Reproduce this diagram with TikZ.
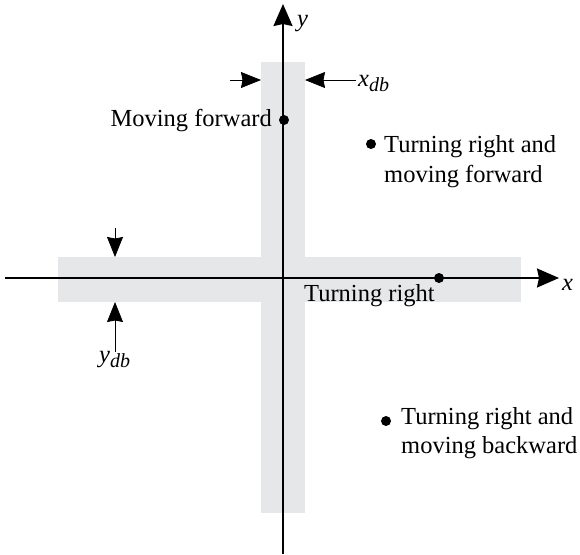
\documentclass[tikz,border=0pt]{standalone}
\usepackage{fontspec}
\setmainfont{Liberation Serif}
\usetikzlibrary{arrows.meta}
\definecolor{band}{HTML}{E6E7E8}
\newcommand{\dbsub}[2]{{\itshape #1\raisebox{-0.5ex}{\fontsize{20}{20}\selectfont #2}}}
\begin{document}
\begin{tikzpicture}[x=1pt,y=-1pt,
  lbl/.style={font=\fontsize{24.5}{30}\selectfont, inner sep=0pt},
  axis/.style={line width=1.8pt, -{Stealth[length=22pt,width=19pt,inset=2pt]}},
  dimarrow/.style={line width=0.8pt, -{Stealth[length=20pt,width=16pt,inset=1.5pt]}},
  dot/.style={circle, fill=black, minimum size=10pt, inner sep=0pt}]
\useasboundingbox (0,0) rectangle (580,554);
% deadband regions
\fill[band] (261,62) rectangle (305,513);
\fill[band] (58,257) rectangle (521,302);
% axes
\coordinate (xs) at (5,278);
\coordinate (xe) at (559,278);
\coordinate (ys) at (283,554);
\coordinate (ye) at (283,4);
\draw[axis] (xs) -- (xe);
\draw[axis] (ys) -- (ye);
\node[lbl, anchor=base west] (xl) at (562,290) {\itshape x};
\node[lbl, anchor=base west] (yl) at (297,26) {\itshape y};
% x deadband dimension
\coordinate (xa1) at (230,80);
\coordinate (xa2) at (261,80);
\coordinate (xb1) at (356,80);
\coordinate (xb2) at (305,80);
\draw[dimarrow] (xa1) -- (xa2);
\draw[dimarrow] (xb1) -- (xb2);
\node[lbl, anchor=base west] (xdb) at (358,86) {\dbsub{x}{db}};
% y deadband dimension
\coordinate (ya1) at (115,228);
\coordinate (ya2) at (115,257);
\coordinate (yb1) at (115,352);
\coordinate (yb2) at (115,302);
\draw[dimarrow] (ya1) -- (ya2);
\draw[dimarrow] (yb1) -- (yb2);
\node[lbl, anchor=base west] (ydb) at (99,362) {\dbsub{y}{db}};
% points
\node[dot] (p1) at (284,120) {};
\node[lbl, anchor=base east] (t1) at (272,126) {Moving forward};
\node[dot] (p2) at (439,278) {};
\node[lbl, anchor=base west] (t2) at (304,301) {Turning right};
\node[dot] (p3) at (371,144) {};
\node[lbl, anchor=base west] (t3a) at (384,152) {Turning right and};
\node[lbl, anchor=base west] (t3b) at (384,182) {moving forward};
\node[dot] (p4) at (386,421) {};
\node[lbl, anchor=base west] (t4a) at (401,424) {Turning right and};
\node[lbl, anchor=base west] (t4b) at (401,453) {moving backward};
\end{tikzpicture}
\end{document}
